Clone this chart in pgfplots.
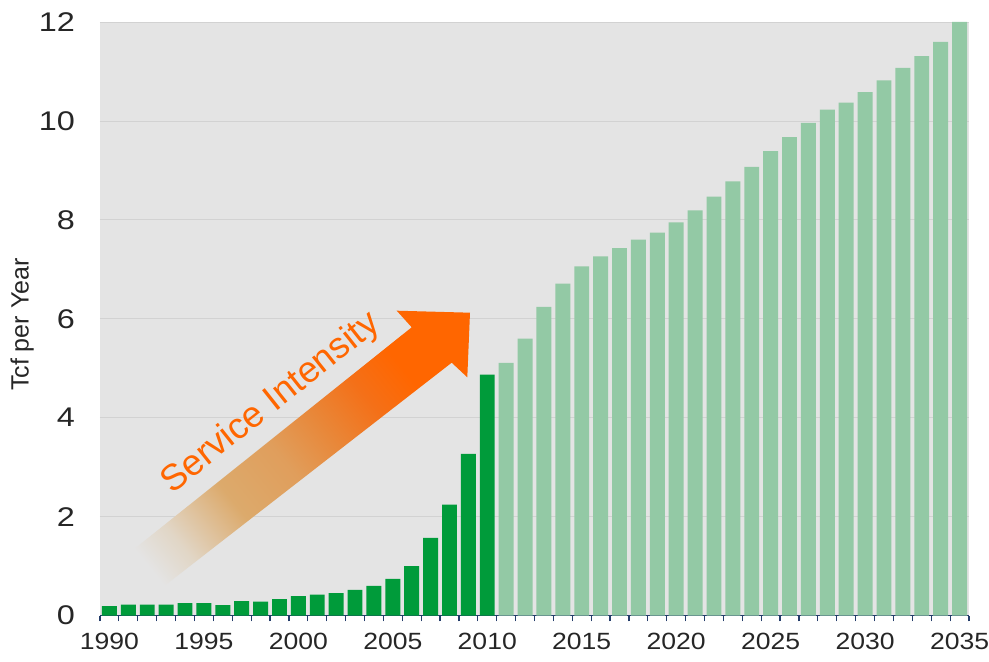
\documentclass[border=0pt]{standalone}
\usepackage{pgfplots}
\pgfplotsset{compat=1.18}
\usepackage{fontspec}
\setmainfont{Liberation Sans}
\usepackage{graphicx}
\definecolor{bgc}{HTML}{E4E4E4}
\definecolor{gridc}{HTML}{D2D2D2}
\definecolor{darkg}{HTML}{009B3A}
\definecolor{lightg}{HTML}{93C9A5}
\definecolor{orng}{HTML}{FF6600}
\definecolor{navy}{HTML}{233C6A}
\definecolor{sh1}{HTML}{E1D6C6}
\definecolor{sh2}{HTML}{DCAA6C}
\definecolor{sh3}{HTML}{E09E5C}
\definecolor{sh4}{HTML}{E8883A}
\definecolor{sh5}{HTML}{F47018}
\pgfdeclarehorizontalshading{arrowshade}{100bp}{color(0bp)=(bgc); color(18.7bp)=(bgc); color(25bp)=(sh1); color(36bp)=(sh2); color(46.6bp)=(sh3); color(54.7bp)=(sh4); color(63.4bp)=(sh5); color(71bp)=(orng); color(100bp)=(orng)}
\begin{document}
\begin{tikzpicture}
\useasboundingbox (-100pt,-46.5pt) rectangle (889pt,615.5pt);
\begin{axis}[
  scale only axis, width=869pt, height=593.5pt,
  xmin=1989.5, xmax=2035.5, ymin=0, ymax=12,
  axis background/.style={fill=bgc},
  axis lines*=left,
  x axis line style={draw=navy, line width=1.6pt, -},
  y axis line style={draw=none},
  /pgf/number format/assume math mode=true,
  xtick={1990,1995,...,2035},
  minor xtick={1989.5,1990.5,...,2035.5},
  major tick length=0pt,
  minor tick length=6pt,
  tick align=outside,
  minor tick style={navy, line width=1.2pt},
  ytick={0,2,...,12},
  ymajorgrids,
  grid style={gridc, line width=0.8pt},
  xticklabel={\scalebox{1.13}[1]{\pgfmathprintnumber[1000 sep={}, fixed, precision=0]{\tick}}},
  xticklabel style={font=\fontsize{23.5}{23.5}\selectfont, anchor=base, yshift=-33.5pt, text=black!85},
  yticklabel={\scalebox{1.2}[1]{\pgfmathprintnumber{\tick}}},
  yticklabel style={font=\fontsize{27}{27}\selectfont, anchor=east, inner sep=0pt, xshift=-25pt, text=black!85},
  ylabel={Tcf per Year},
  ylabel style={font=\fontsize{25}{25}\selectfont, at={(axis description cs:-0.0895,0.49)}, anchor=center, text=black!85},
]
\addplot[ybar, bar width=0.79, bar shift=0pt, fill=darkg, draw=none] coordinates {
(1990,0.19) (1991,0.22) (1992,0.22) (1993,0.22) (1994,0.25) (1995,0.25) (1996,0.21)
(1997,0.29) (1998,0.28) (1999,0.33) (2000,0.39) (2001,0.42) (2002,0.45) (2003,0.52)
(2004,0.60) (2005,0.74) (2006,1.00) (2007,1.57) (2008,2.24) (2009,3.27) (2010,4.87)};
\addplot[ybar, bar width=0.79, bar shift=0pt, fill=lightg, draw=none] coordinates {
(2011,5.11) (2012,5.60) (2013,6.24) (2014,6.71) (2015,7.06) (2016,7.26) (2017,7.43)
(2018,7.60) (2019,7.74) (2020,7.95) (2021,8.19) (2022,8.47) (2023,8.78) (2024,9.07)
(2025,9.39) (2026,9.67) (2027,9.96) (2028,10.23) (2029,10.37) (2030,10.58) (2031,10.82)
(2032,11.07) (2033,11.31) (2034,11.60) (2035,12.0)};
\end{axis}
\shade[shading=arrowshade, shading angle=39] (33pt,65.5pt) -- (311.7pt,288.2pt) -- (296.7pt,304.8pt) -- (370pt,302.8pt) -- (367.3pt,238.2pt) -- (351.7pt,252.8pt) -- (63pt,28.5pt) -- cycle;
\node[rotate=38.5, text=orng, font=\fontsize{36.5}{36.5}\selectfont, inner sep=0pt] at (171pt,212pt) {Service Intensity};
\end{tikzpicture}
\end{document}
